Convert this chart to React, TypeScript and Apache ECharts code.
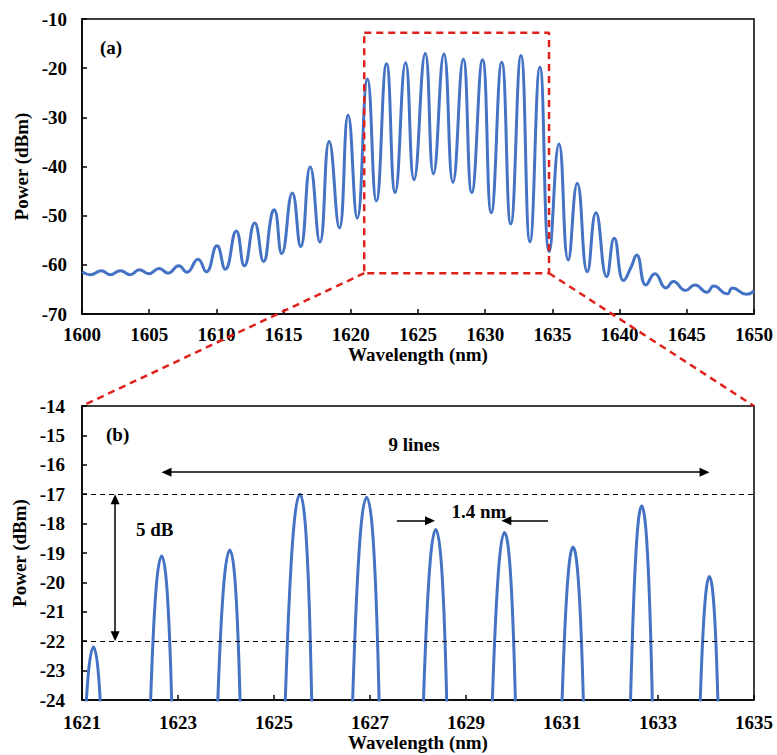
import React, { useEffect, useRef } from 'react';
import * as echarts from 'echarts';

// Spectrum (peaks and troughs), nm / dBm
const wavelength = [
  1600.0, 1600.62, 1601.44, 1602.1, 1602.85, 1603.6, 1604.26, 1604.96, 1605.75, 1606.4,
  1607.2, 1607.8, 1608.63, 1609.25, 1610.04, 1610.66, 1611.48, 1612.08, 1612.85, 1613.5,
  1614.1, 1614.3, 1614.86, 1615.65, 1616.27, 1616.98, 1617.7, 1618.39, 1619.15, 1619.8,
  1620.48, 1621.24, 1621.9, 1622.66, 1623.3, 1624.08, 1624.7, 1625.54, 1626.15, 1626.93,
  1627.6, 1628.37, 1629.0, 1629.8, 1630.45, 1631.23, 1631.9, 1632.66, 1633.33, 1634.07,
  1634.77, 1635.49, 1636.18, 1636.85, 1637.6, 1638.24, 1639.04, 1639.6, 1640.3, 1640.85,
  1641.27, 1641.96, 1642.63, 1643.45, 1644.0, 1644.9, 1645.6, 1646.5, 1647.0, 1648.0,
  1648.4, 1649.45, 1650.0,
];
const power = [
  -61.4, -62.0, -61.2, -62.0, -61.2, -62.0, -61.0, -61.8, -60.75, -61.7,
  -60.2, -61.5, -58.85, -61.4, -56.1, -60.9, -53.1, -60.2, -51.5, -59.3,
  -49.8, -48.8, -57.7, -45.4, -56.3, -40.1, -55.4, -34.9, -52.5, -29.6,
  -50.5, -22.2, -47.0, -19.1, -45.3, -18.9, -42.7, -17.0, -41.5, -17.1,
  -43.2, -18.2, -45.3, -18.3, -49.4, -18.8, -51.7, -17.4, -55.3, -19.8,
  -57.3, -35.4, -59.0, -43.4, -61.4, -49.4, -62.4, -54.6, -63.2, -60.5,
  -58.0, -64.1, -61.8, -64.7, -63.4, -65.2, -64.1, -65.6, -64.3, -65.9,
  -64.7, -66.0, -65.3,
];

// Axis ranges / ticks
const fullRangeX = [1600, 1650];
const fullRangeY = [-70, -10];
const zoomRangeX = [1621, 1635];
const zoomRangeY = [-24, -14];

// Zoom box drawn in panel (a)
const boxWavelength = [1621, 1634.75];
const boxPower = [-12.8, -61.7];

// Annotations of panel (b)
const refLevels = [-17, -22];
const nineLinesX = [1622.76, 1633.97];
const nineLinesY = -16.25;
const fiveDbX = 1621.69;
const fiveDbY = [-17.17, -21.83];
const spacingLeftX = [1627.56, 1628.25];
const spacingRightX = [1630.71, 1629.84];
const spacingY = -17.9;

const FONT = 'Liberation Serif';
const BLUE = '#4472C4';
const RED = '#e0201b';

export default function App() {
  const ref = useRef<HTMLDivElement>(null);

  useEffect(() => {
    if (!ref.current) return;
    const chart = echarts.init(ref.current, undefined, { renderer: 'svg' });
    const spectrum = wavelength.map((w, i) => [w, power[i]]);

    const labelStyle = {
      color: '#000',
      fontFamily: FONT,
      fontWeight: 'bold' as const,
      fontSize: 19,
    };
    const axisCommon = {
      axisLine: { lineStyle: { color: '#000', width: 1.5 } },
      axisTick: { inside: true, length: 5, lineStyle: { color: '#000', width: 1.5 } },
      splitLine: { show: false },
      nameTextStyle: { ...labelStyle },
    };
    const arrowSize = [9, 10];

    chart.setOption({
      animation: false,
      backgroundColor: '#fff',
      textStyle: { fontFamily: FONT },
      grid: [
        { left: 82, top: 19, width: 672, height: 295, show: true, borderColor: '#000', borderWidth: 1.5, backgroundColor: 'transparent' },
        { left: 82, top: 406, width: 672, height: 294, show: true, borderColor: '#000', borderWidth: 1.5, backgroundColor: 'transparent' },
      ],
      xAxis: [
        {
          type: 'value', gridIndex: 0, min: fullRangeX[0], max: fullRangeX[1], interval: 5,
          name: 'Wavelength (nm)', nameLocation: 'middle', nameGap: 25,
          axisLabel: { ...labelStyle, margin: 11, showMinLabel: true, showMaxLabel: true, formatter: (v: number) => String(v) },
          ...axisCommon,
        },
        {
          type: 'value', gridIndex: 1, min: zoomRangeX[0], max: zoomRangeX[1], interval: 2,
          name: 'Wavelength (nm)', nameLocation: 'middle', nameGap: 29,
          axisLabel: { ...labelStyle, margin: 13, showMinLabel: true, showMaxLabel: true, formatter: (v: number) => String(v) },
          ...axisCommon,
        },
      ],
      yAxis: [
        {
          type: 'value', gridIndex: 0, min: fullRangeY[0], max: fullRangeY[1], interval: 10,
          name: 'Power (dBm)', nameLocation: 'middle', nameGap: 48,
          axisLabel: { ...labelStyle, margin: 15, showMinLabel: true, showMaxLabel: true, formatter: (v: number) => String(v) },
          ...axisCommon,
        },
        {
          type: 'value', gridIndex: 1, min: zoomRangeY[0], max: zoomRangeY[1], interval: 1,
          name: 'Power (dBm)', nameLocation: 'middle', nameGap: 48,
          axisLabel: { ...labelStyle, margin: 17, showMinLabel: true, showMaxLabel: true, formatter: (v: number) => String(v) },
          ...axisCommon,
        },
      ],
      series: [
        {
          type: 'line', xAxisIndex: 0, yAxisIndex: 0, data: spectrum, smooth: true,
          showSymbol: false, symbol: 'none', lineStyle: { color: BLUE, width: 3 }, z: 2,
        },
        {
          type: 'line', xAxisIndex: 0, yAxisIndex: 0, showSymbol: false, symbol: 'none', z: 4,
          data: [
            [boxWavelength[0], boxPower[0]],
            [boxWavelength[1], boxPower[0]],
            [boxWavelength[1], boxPower[1]],
            [boxWavelength[0], boxPower[1]],
            [boxWavelength[0], boxPower[0]],
          ],
          lineStyle: { color: RED, width: 2.5, type: [7, 5] },
        },
        {
          type: 'line', xAxisIndex: 1, yAxisIndex: 1, data: spectrum, smooth: true,
          showSymbol: false, symbol: 'none', lineStyle: { color: BLUE, width: 3 }, z: 2,
          markLine: {
            silent: true,
            symbol: ['none', 'none'],
            symbolSize: arrowSize,
            label: { show: false },
            lineStyle: { color: '#000', width: 1.5, type: 'solid' },
            data: [
              ...refLevels.map((v) => ({ yAxis: v, lineStyle: { type: [5, 4], width: 1.2, color: '#000' } })),
              [
                { coord: [nineLinesX[0], nineLinesY], symbol: 'triangle' },
                { coord: [nineLinesX[1], nineLinesY], symbol: 'triangle' },
              ],
              [
                { coord: [fiveDbX, fiveDbY[0]], symbol: 'triangle' },
                { coord: [fiveDbX, fiveDbY[1]], symbol: 'triangle' },
              ],
              [
                { coord: [spacingLeftX[0], spacingY], symbol: 'none' },
                { coord: [spacingLeftX[1], spacingY], symbol: 'triangle' },
              ],
              [
                { coord: [spacingRightX[0], spacingY], symbol: 'none' },
                { coord: [spacingRightX[1], spacingY], symbol: 'triangle' },
              ],
            ],
          },
        },
      ],
    });

    const px = (g: number, pt: number[]) => chart.convertToPixel({ gridIndex: g }, pt) as number[];
    const bl = px(0, [boxWavelength[0], boxPower[1]]);
    const br = px(0, [boxWavelength[1], boxPower[1]]);
    const tl = px(1, [zoomRangeX[0], zoomRangeY[1]]);
    const tr = px(1, [zoomRangeX[1], zoomRangeY[1]]);
    const dashed = { stroke: RED, lineWidth: 2.5, lineDash: [7, 5] };
    const txt = (text: string, x: number, y: number, align: string) => ({
      type: 'text', x, y, z: 10,
      style: { text, fill: '#000', fontFamily: FONT, fontWeight: 'bold', fontSize: 19, align, verticalAlign: 'middle' },
    });

    chart.setOption({
      graphic: [
        { type: 'line', z: 10, shape: { x1: bl[0], y1: bl[1], x2: tl[0], y2: tl[1] }, style: dashed },
        { type: 'line', z: 10, shape: { x1: br[0], y1: br[1], x2: tr[0], y2: tr[1] }, style: dashed },
        txt('(a)', 100, 47, 'left'),
        txt('(b)', 106, 434, 'left'),
        txt('9 lines', 414, 444, 'center'),
        txt('5 dB', 136, 529, 'left'),
        txt('1.4 nm', 479, 511, 'center'),
      ],
    });

    return () => chart.dispose();
  }, []);

  return (
    <div
      ref={ref}
      style={{ position: 'fixed', left: 0, top: 0, width: 777, height: 755, background: '#fff' }}
    />
  );
}
